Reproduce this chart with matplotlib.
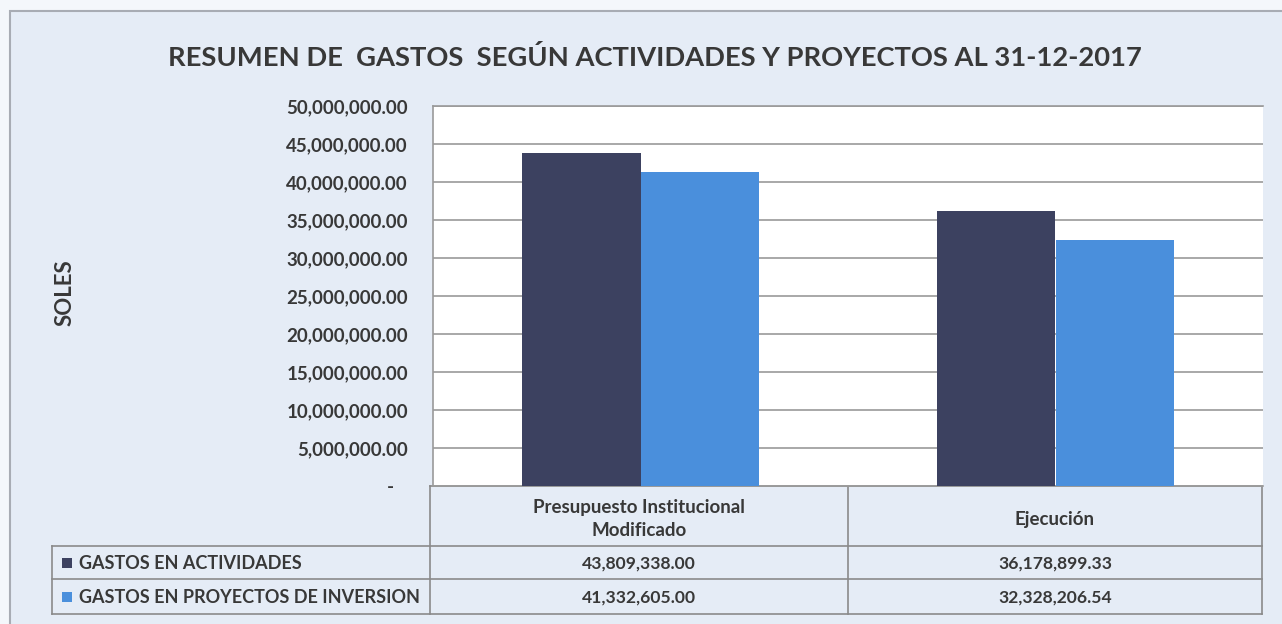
import matplotlib.pyplot as plt
import numpy as np
from matplotlib.patches import Rectangle
from matplotlib.ticker import FuncFormatter

categories = ['Presupuesto Institucional\nModificado', 'Ejecución']
series = ['GASTOS EN ACTIVIDADES', 'GASTOS EN PROYECTOS DE INVERSION']
actividades = [43809338.00, 36178899.33]
proyectos = [41332605.00, 32328206.54]
yticks = list(range(0, 50000001, 5000000))

W, H = 1282, 624
plt.rcParams['font.family'] = ['Lato', 'DejaVu Sans']
plt.rcParams['font.weight'] = 'bold'
txt = '#383838'
grid = '#9a9a9a'
c_dark = '#3c4160'
c_light = '#4a8fdc'
bg = '#e5ecf6'

fig = plt.figure(figsize=(W / 100, H / 100), dpi=100, facecolor='#f4f7fb')

# background layer in pixel coords (frame, title, table)
bgax = fig.add_axes([0, 0, 1, 1], zorder=0)
bgax.set_xlim(0, W)
bgax.set_ylim(H, 0)
bgax.axis('off')
bgax.add_patch(Rectangle((10, 11), W + 20, H + 20, facecolor=bg, edgecolor='#a8acb4', lw=1.5))

bgax.text(655, 57, 'RESUMEN DE  GASTOS  SEGÚN ACTIVIDADES Y PROYECTOS AL 31-12-2017',
          ha='center', va='center', fontsize=19.7, color=txt)
bgax.text(65, 293, 'SOLES', rotation=90, ha='center', va='center', fontsize=16, color=txt)

# plot area
left, right, top, bottom = 433, 1263, 106, 486
ax = fig.add_axes([left / W, 1 - bottom / H, (right - left) / W, (bottom - top) / H], zorder=1)
ax.set_facecolor('white')
x = np.arange(len(categories))
bw = 0.285
ax.bar(x - bw / 2, actividades, bw, color=c_dark, zorder=3)
ax.bar(x + bw / 2, proyectos, bw, color=c_light, zorder=3)
ax.set_xlim(-0.5, len(categories) - 0.5)
ax.set_ylim(0, 50000000)
ax.set_yticks(yticks)
ax.yaxis.set_major_formatter(FuncFormatter(lambda v, p: '-   ' if v == 0 else f'{v:,.2f}'))
ax.set_xticks([])
ax.tick_params(axis='y', length=0, pad=18, labelsize=13.5, labelcolor=txt)
ax.grid(axis='y', color=grid, lw=1.2, zorder=0)
for s in ['left', 'bottom', 'top']:
    ax.spines[s].set_color(grid)
    ax.spines[s].set_linewidth(1.2)
ax.spines['right'].set_visible(False)

# data table
cols = [430, 848, 1262]
lab_l = 52
rows = [486, 546, 579, 614]
lc = '#8a8a8a'
bgax.plot([cols[0], cols[-1]], [rows[0], rows[0]], color=lc, lw=1.2)
for yy in rows[1:]:
    bgax.plot([lab_l, cols[-1]], [yy, yy], color=lc, lw=1.2)
bgax.plot([lab_l, lab_l], [rows[1], rows[-1]], color=lc, lw=1.2)
for xx in cols:
    bgax.plot([xx, xx], [rows[0], rows[-1]], color=lc, lw=1.2)

for i, cat in enumerate(categories):
    cx = (cols[i] + cols[i + 1]) / 2
    bgax.text(cx, (rows[0] + rows[1]) / 2 + 3, cat, ha='center', va='center',
              fontsize=13.5, color=txt, linespacing=1.45)
    for j, vals in enumerate([actividades, proyectos]):
        bgax.text(cx, (rows[j + 1] + rows[j + 2]) / 2 + 1, f'{vals[i]:,.2f}',
                  ha='center', va='center', fontsize=12.6, color=txt)

for j, (name, col) in enumerate(zip(series, [c_dark, c_light])):
    cy = (rows[j + 1] + rows[j + 2]) / 2
    bgax.add_patch(Rectangle((62, cy - 5), 10, 10, facecolor=col, edgecolor='none'))
    bgax.text(79, cy + 1, name, ha='left', va='center', fontsize=13, color=txt)

fig.savefig('out.png', dpi=100, facecolor=fig.get_facecolor())
